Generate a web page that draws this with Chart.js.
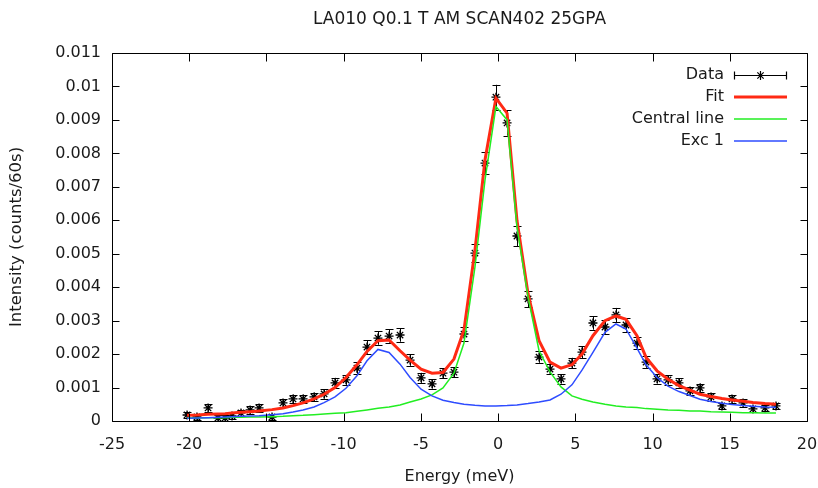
<!DOCTYPE html>
<html><head><meta charset="utf-8">
<script src="https://cdn.jsdelivr.net/npm/chart.js@4/dist/chart.umd.min.js"></script>
<style>html,body{margin:0;padding:0;background:#fff}canvas{display:block}</style>
</head><body>
<canvas id="c" width="818" height="488"></canvas>
<script>
// ---- data ----
const titleText = 'LA010 Q0.1 T AM SCAN402 25GPA';
const xTitle = 'Energy (meV)';
const yTitle = 'Intensity (counts/60s)';
const xTicks = [-25, -20, -15, -10, -5, 0, 5, 10, 15, 20];
const yTicks = [0, 0.001, 0.002, 0.003, 0.004, 0.005, 0.006, 0.007, 0.008, 0.009, 0.01, 0.011];
const yTickLabels = ['0', '0.001', '0.002', '0.003', '0.004', '0.005', '0.006', '0.007', '0.008', '0.009', '0.01', '0.011'];
const seriesNames = ['Data', 'Fit', 'Central line', 'Exc 1'];

const energy = [-20.14, -19.50, -18.78, -18.14, -17.68, -17.23, -16.65, -16.06, -15.48, -14.64,
  -13.93, -13.28, -12.63, -11.92, -11.27, -10.56, -9.85, -9.14, -8.49, -7.78,
  -7.06, -6.35, -5.70, -4.99, -4.28, -3.57, -2.86, -2.21, -1.50, -0.85,
  -0.14, 0.58, 1.22, 1.94, 2.65, 3.36, 4.07, 4.78, 5.43, 6.14,
  6.92, 7.63, 8.28, 8.99, 9.58, 10.29, 11.00, 11.71, 12.42, 13.07,
  13.78, 14.49, 15.14, 15.86, 16.50, 17.28, 17.99];

const counts = [0.00018, 0.00012, 0.00039, 0.00009, 0.00009, 0.00015, 0.00024, 0.00033, 0.00039, 0.00012,
  0.00054, 0.00066, 0.00066, 0.00072, 0.00081, 0.00114, 0.00123, 0.00158, 0.00221, 0.00248,
  0.00254, 0.00257, 0.00182, 0.00129, 0.00111, 0.00143, 0.00146, 0.00260, 0.00502, 0.00771,
  0.00968, 0.00891, 0.00553, 0.00365, 0.00191, 0.00155, 0.00126, 0.00173, 0.00206, 0.00293,
  0.00281, 0.00317, 0.00287, 0.00233, 0.00176, 0.00126, 0.00123, 0.00114, 0.00090, 0.00099,
  0.00072, 0.00045, 0.00066, 0.00054, 0.00036, 0.00039, 0.00045];

const errors = [0.0001, 0.0001, 0.00011, 0.0001, 0.0001, 0.0001, 0.0001, 0.00011, 0.00011, 0.0001,
  0.00012, 0.00013, 0.00013, 0.00013, 0.00014, 0.00015, 0.00015, 0.00017, 0.0002, 0.0002,
  0.0002, 0.0002, 0.00017, 0.00015, 0.00014, 0.00015, 0.00015, 0.0002, 0.00026, 0.00034,
  0.00037, 0.00038, 0.0003, 0.00025, 0.00017, 0.00016, 0.00014, 0.00016, 0.00018, 0.0002,
  0.0002, 0.00021, 0.0002, 0.00019, 0.00017, 0.00014, 0.00014, 0.00014, 0.00012, 0.00013,
  0.00012, 0.0001, 0.00011, 0.00011, 0.0001, 0.0001, 0.0001];

const fit = [0.00017, 0.00018, 0.0002, 0.00021, 0.00022, 0.00024, 0.00026, 0.00028, 0.0003, 0.00034,
  0.00039, 0.00046, 0.00054, 0.00066, 0.0008, 0.001, 0.0013, 0.00168, 0.00208, 0.0024,
  0.00242, 0.0021, 0.00182, 0.00155, 0.00143, 0.00145, 0.00185, 0.00272, 0.0051, 0.0078,
  0.00965, 0.0092, 0.006, 0.0038, 0.0024, 0.00176, 0.00158, 0.00168, 0.002, 0.00255,
  0.003, 0.00314, 0.00304, 0.00255, 0.0019, 0.0015, 0.00125, 0.00106, 0.00092, 0.0008,
  0.00073, 0.00067, 0.00063, 0.00059, 0.00055, 0.00052, 0.0005];

const central = [0.00009, 0.00009, 0.0001, 0.0001, 0.0001, 0.00011, 0.00011, 0.00012, 0.00012, 0.00013,
  0.00014, 0.00016, 0.00017, 0.00019, 0.00021, 0.00023, 0.00025, 0.00029, 0.00033, 0.00038,
  0.00042, 0.00048, 0.00057, 0.00066, 0.00078, 0.00099, 0.00143, 0.00233, 0.0046, 0.0072,
  0.0094, 0.009, 0.0058, 0.0037, 0.0021, 0.00147, 0.00102, 0.00075, 0.00065, 0.00057,
  0.0005, 0.00045, 0.00042, 0.0004, 0.00037, 0.00035, 0.00033, 0.00032, 0.0003, 0.0003,
  0.00028, 0.00027, 0.00026, 0.00025, 0.00025, 0.00024, 0.00024];

const exc1 = [0.00008, 0.00009, 0.0001, 0.00011, 0.00012, 0.00013, 0.00014, 0.00015, 0.00016, 0.00019,
  0.00022, 0.00027, 0.00033, 0.00042, 0.00055, 0.00072, 0.00098, 0.00135, 0.0018, 0.00214,
  0.00205, 0.0017, 0.0013, 0.00095, 0.00075, 0.00062, 0.00055, 0.0005, 0.00047, 0.00045,
  0.00045, 0.00046, 0.00048, 0.00052, 0.00057, 0.00063, 0.0008, 0.00108, 0.00152, 0.00205,
  0.00265, 0.0029, 0.00275, 0.00218, 0.00168, 0.0013, 0.00104, 0.00088, 0.00076, 0.00065,
  0.00058, 0.00053, 0.00049, 0.00046, 0.00044, 0.00042, 0.00041];

// ---- styling ----
const FONT = 'DejaVu Sans';
const TXT = '#1a1a1a';
const colors = { data: '#000000', fit: '#ff2a14', central: '#22ee22', exc: '#2e4cff' };

const pts = arr => energy.map((e, i) => ({ x: e, y: arr[i] }));

const framePlugin = {
  id: 'frame',
  beforeDatasetsDraw(chart) {
    const { ctx, scales: { x, y } } = chart;
    ctx.save();
    ctx.strokeStyle = '#000';
    ctx.lineWidth = 1;
    ctx.beginPath();
    energy.forEach((e, i) => {
      const px = Math.round(x.getPixelForValue(e)) + 0.5;
      const y1 = y.getPixelForValue(counts[i] - errors[i]);
      const y2 = y.getPixelForValue(counts[i] + errors[i]);
      ctx.moveTo(px, y1); ctx.lineTo(px, y2);
      ctx.moveTo(px - 4, Math.round(y1) + 0.5); ctx.lineTo(px + 4, Math.round(y1) + 0.5);
      ctx.moveTo(px - 4, Math.round(y2) + 0.5); ctx.lineTo(px + 4, Math.round(y2) + 0.5);
    });
    ctx.stroke();
    ctx.restore();
  },
  afterDraw(chart) {
    const { ctx, chartArea: a, scales: { x, y } } = chart;
    ctx.save();
    ctx.strokeStyle = '#000';
    ctx.lineWidth = 1;
    const L = Math.round(a.left) + 0.5, R = Math.round(a.right) + 0.5;
    const T = Math.round(a.top) + 0.5, B = Math.round(a.bottom) + 0.5;
    ctx.beginPath();
    ctx.rect(L, T, R - L, B - T);
    xTicks.forEach(v => {
      const px = Math.round(x.getPixelForValue(v)) + 0.5;
      ctx.moveTo(px, B); ctx.lineTo(px, B - 8);
      ctx.moveTo(px, T); ctx.lineTo(px, T + 8);
    });
    yTicks.forEach(v => {
      const py = Math.round(y.getPixelForValue(v)) + 0.5;
      ctx.moveTo(L, py); ctx.lineTo(L + 7, py);
      ctx.moveTo(R, py); ctx.lineTo(R - 7, py);
    });
    ctx.stroke();

    // legend (gnuplot style: text right-aligned, sample on the right)
    const textRight = 724, s0 = 734, s1 = 787, rowY = [75, 97, 119, 141];
    ctx.font = '16px "' + FONT + '"';
    ctx.fillStyle = TXT;
    ctx.textAlign = 'right';
    ctx.textBaseline = 'middle';
    seriesNames.forEach((n, i) => ctx.fillText(n, textRight, rowY[i]));
    // Data sample
    let yy = rowY[0] + 0.5;
    ctx.beginPath();
    ctx.moveTo(s0, yy); ctx.lineTo(s1, yy);
    ctx.moveTo(s0 + 0.5, yy - 4); ctx.lineTo(s0 + 0.5, yy + 4);
    ctx.moveTo(s1 - 0.5, yy - 4); ctx.lineTo(s1 - 0.5, yy + 4);
    const cx = (s0 + s1) / 2, r = 4.5;
    ctx.moveTo(cx - r, yy); ctx.lineTo(cx + r, yy);
    ctx.moveTo(cx, yy - r); ctx.lineTo(cx, yy + r);
    ctx.moveTo(cx - r * 0.7, yy - r * 0.7); ctx.lineTo(cx + r * 0.7, yy + r * 0.7);
    ctx.moveTo(cx - r * 0.7, yy + r * 0.7); ctx.lineTo(cx + r * 0.7, yy - r * 0.7);
    ctx.lineWidth = 1.2;
    ctx.stroke();
    const samples = [[colors.fit, 3], [colors.central, 1.5], [colors.exc, 1.5]];
    samples.forEach(([c, w], i) => {
      ctx.beginPath();
      ctx.strokeStyle = c; ctx.lineWidth = w;
      ctx.moveTo(s0, rowY[i + 1]); ctx.lineTo(s1, rowY[i + 1]);
      ctx.stroke();
    });
    ctx.restore();
  }
};

new Chart(document.getElementById('c'), {
  type: 'line',
  data: {
    datasets: [
      { label: seriesNames[0], data: pts(counts), showLine: false, order: 4,
        pointStyle: 'star', pointRadius: 4.5, pointBorderWidth: 1.3,
        pointBorderColor: colors.data, pointBackgroundColor: colors.data },
      { label: seriesNames[1], data: pts(fit), order: 3, borderColor: colors.fit,
        borderWidth: 3, pointRadius: 0, tension: 0, fill: false },
      { label: seriesNames[2], data: pts(central), order: 2, borderColor: colors.central,
        borderWidth: 1.5, pointRadius: 0, tension: 0, fill: false },
      { label: seriesNames[3], data: pts(exc1), order: 1, borderColor: colors.exc,
        borderWidth: 1.5, pointRadius: 0, tension: 0, fill: false }
    ]
  },
  options: {
    responsive: false,
    animation: false,
    devicePixelRatio: 1,
    layout: { padding: { top: 0, right: 11, bottom: 0, left: 0 } },
    plugins: {
      legend: { display: false },
      tooltip: { enabled: false },
      title: { display: true, fullSize: false, text: titleText, color: TXT,
        font: { family: FONT, size: 17, weight: 'normal' },
        padding: { top: 9, bottom: 23.6 } }
    },
    scales: {
      x: {
        type: 'linear', min: -25, max: 20,
        afterBuildTicks: s => { s.ticks = xTicks.map(v => ({ value: v })); },
        afterFit: s => { s.height = 67; s.paddingLeft = 0; s.paddingRight = 0; },
        grid: { display: false, drawTicks: false },
        border: { display: false },
        ticks: { color: TXT, font: { family: FONT, size: 16 }, padding: 14, maxRotation: 0,
          callback: v => String(v) },
        title: { display: true, text: xTitle, color: TXT,
          font: { family: FONT, size: 16 }, padding: { top: 0, bottom: 2 } }
      },
      y: {
        type: 'linear', min: 0, max: 0.011,
        afterBuildTicks: s => { s.ticks = yTicks.map(v => ({ value: v })); },
        afterFit: s => { s.width = 112; s.paddingTop = 0; s.paddingBottom = 0; },
        grid: { display: false, drawTicks: false },
        border: { display: false },
        ticks: { color: TXT, font: { family: FONT, size: 16 }, padding: 11,
          callback: (v, i) => yTickLabels[i] },
        title: { display: true, text: yTitle, color: TXT,
          font: { family: FONT, size: 16.5 }, padding: { top: 7, bottom: 0 } }
      }
    }
  },
  plugins: [framePlugin]
});
</script>
</body></html>
